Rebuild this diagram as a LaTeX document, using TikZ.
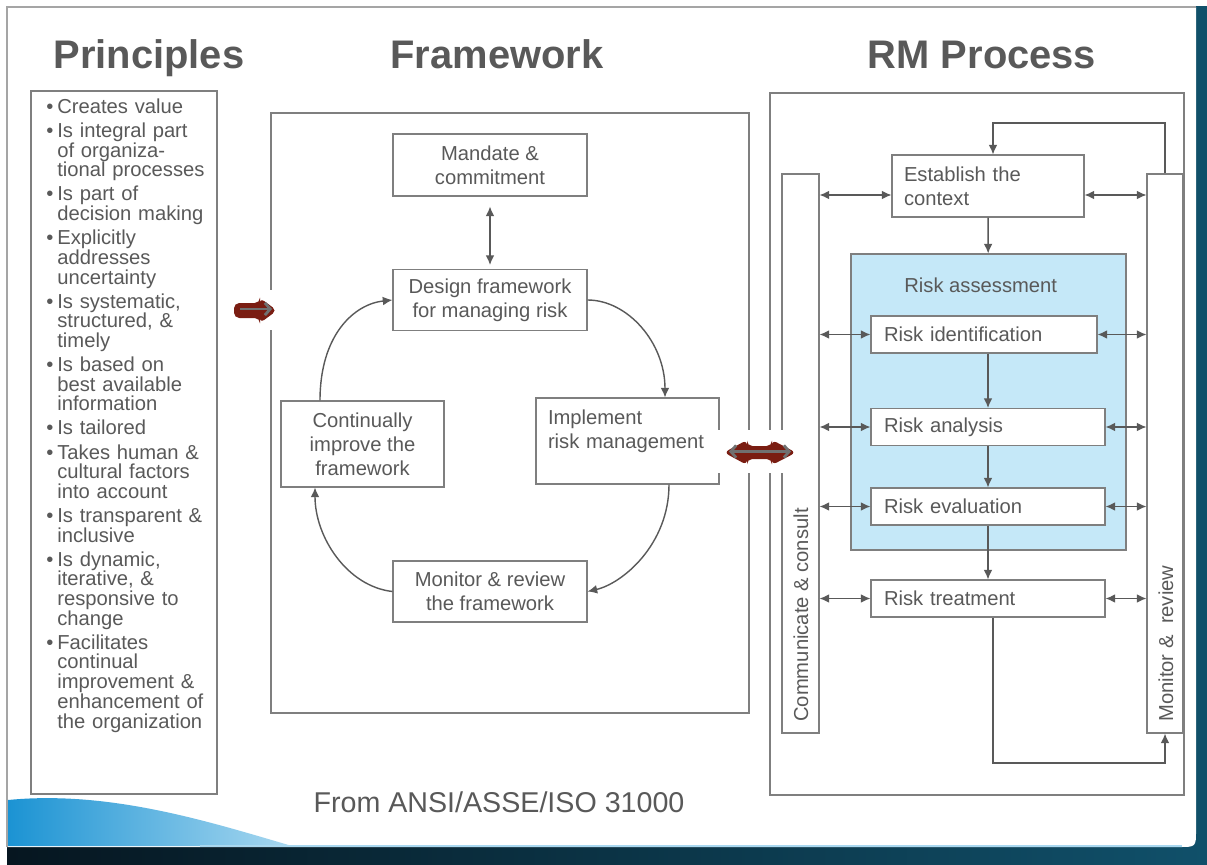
\documentclass[tikz,border=0pt]{standalone}
\usepackage{fontspec}
\setmainfont{Liberation Sans}
\usetikzlibrary{arrows.meta, positioning}

\definecolor{txtgray}{HTML}{595959}
\definecolor{boxgray}{HTML}{7F7F7F}
\definecolor{riskblue}{HTML}{C5E8F8}
\definecolor{fatred}{HTML}{7A1D12}
\definecolor{inkgray}{HTML}{707070}
\definecolor{banddark}{HTML}{061620}
\definecolor{bandteal}{HTML}{10506A}
\definecolor{swoosh}{HTML}{1B93D3}
\definecolor{swooshlight}{HTML}{A9D8F0}

\newdimen\pxu \pxu=0.02cm
\newcommand\bodyfont{\fontsize{11.5}{13.6}\selectfont}
\newcommand\prin[1]{\par\noindent\makebox[11\pxu][l]{\textbullet}#1\par}
\newcommand\cont{\\\hspace*{11\pxu}}

\tikzset{
  box/.style={draw=boxgray, line width=0.6pt, fill=white, text=txtgray, inner sep=0pt, align=center, font=\bodyfont},
  riskbox/.style={box, align=left, minimum height=37\pxu},
  link/.style={draw=txtgray, line width=0.8pt, -{Latex[length=5.5pt, width=5pt]}},
  dlink/.style={draw=txtgray, line width=0.8pt, {Latex[length=5.5pt, width=5pt]}-{Latex[length=5.5pt, width=5pt]}},
  heading/.style={text=txtgray, font=\fontsize{22.7}{27}\selectfont\bfseries, anchor=base},
  sidetext/.style={text=txtgray, font=\bodyfont, rotate=90, anchor=west, inner sep=0pt},
}

\begin{document}
\begin{tikzpicture}[x=0.02cm, y=-0.02cm]
\useasboundingbox (0,0) rectangle (1207,865);
% slide frame
\shade[left color=banddark, right color=bandteal] (7,7) rectangle (1207,865);
\fill[white] (7,7) -- (1196,7) -- (1196,830) .. controls (1196,847) .. (1179,847) -- (7,847) -- cycle;
\shade[left color=swoosh, right color=swooshlight] (8,800) .. controls (110,790) and (210,822) .. (292,846) -- (8,846) -- cycle;
\draw[swooshlight, line width=1.2pt] (200,846) -- (1182,846);
\draw[boxgray!70, line width=0.6pt] (7,847) -- (7,7) -- (1196,7);

\node[heading] (tprin) at (149,69) {Principles};
\node[heading] (tfw) at (497,69) {Framework};
\node[heading] (trm) at (982,69) {RM Process};

% principles
\node[box, minimum width=186\pxu, minimum height=703\pxu] (prinbox) at (124,442.5) {};
\node[text=txtgray, text width=172\pxu, align=left, inner sep=0pt, anchor=north west, font=\fontsize{11.5}{11.2}\selectfont] (prinlist) at (46,89) {\setlength\parskip{2.5pt}%
\prin{Creates value}
\prin{Is integral part\cont of organiza-\cont tional processes}
\prin{Is part of\cont decision making}
\prin{Explicitly\cont addresses\cont uncertainty}
\prin{Is systematic,\cont structured, \&\cont timely}
\prin{Is based on\cont best available\cont information}
\prin{Is tailored}
\prin{Takes human \&\cont cultural factors\cont into account}
\prin{Is transparent \&\cont inclusive}
\prin{Is dynamic,\cont iterative, \&\cont responsive to\cont change}
\prin{Facilitates\cont continual\cont improvement \&\cont enhancement of\cont the organization}};

% framework
\node[box, minimum width=478\pxu, minimum height=600\pxu] (fw) at (510,413) {};
\node[box, minimum width=194\pxu, minimum height=62\pxu] (mandate) at (490,165) {Mandate \&\\commitment};
\node[box, minimum width=194\pxu, minimum height=61\pxu] (design) at (490,300) {Design framework\\for managing risk};
\node[box, minimum width=163\pxu, minimum height=86\pxu] (improve) at (362.5,444) {Continually\\improve the\\framework};
\node[box, minimum width=183\pxu, minimum height=86\pxu, text width=159\pxu, align=left] (implement) at (627.5,441) {Implement\\risk management\\\mbox{}};
\node[box, minimum width=194\pxu, minimum height=61\pxu] (monitorfw) at (490,591.5) {Monitor \& review\\the framework};

\draw[dlink, shorten <=10\pxu, shorten >=4\pxu] (mandate) -- (design);
\draw[link] ([xshift=-42.5\pxu]improve.north) .. controls +(0,-66) and +(-38,4) .. (design.west);
\draw[link] (design.east) .. controls +(40,0) and +(0,-55) .. ([xshift=37.5\pxu]implement.north);
\draw[link] ([xshift=41.5\pxu]implement.south) .. controls +(0,60) and +(35,-8) .. (monitorfw.east);
\draw[link] (monitorfw.west) .. controls +(-45,-5) and +(0,50) .. ([xshift=-47.5\pxu]improve.south);

% rm process
\node[box, minimum width=414\pxu, minimum height=702\pxu] (rm) at (977,444) {};
\node[box, minimum width=37\pxu, minimum height=559\pxu] (comm) at (800.5,453.5) {};
\node[box, minimum width=36\pxu, minimum height=559\pxu] (monrev) at (1165,453.5) {};
\node[sidetext] (commtext) at (801,722) {Communicate \& consult};
\node[sidetext] (monrevtext) at (1166,722) {Monitor \&\ \ review};
\node[box, minimum width=192\pxu, minimum height=62\pxu, text width=168\pxu, align=left] (establish) at (988,186) {Establish the\\context};
\node[box, fill=riskblue, minimum width=275\pxu, minimum height=296\pxu] (riskassess) at (988.5,402) {};
\node[text=txtgray, font=\bodyfont, anchor=west, inner sep=0pt] (ratitle) at (904,285) {Risk assessment};
\node[riskbox, minimum width=226\pxu, text width=200\pxu] (riskid) at (984,334.5) {Risk identification};
\node[riskbox, minimum width=234\pxu, text width=208\pxu] (riskan) at (988,427) {Risk analysis};
\node[riskbox, minimum width=234\pxu, text width=208\pxu] (riskev) at (988,506.5) {Risk evaluation};
\node[riskbox, minimum width=234\pxu, text width=208\pxu] (risktr) at (988,598.5) {Risk treatment};

\draw[dlink] (comm.east |- 0,195) -- ([yshift=-9\pxu]establish.west);
\draw[dlink] ([yshift=-9\pxu]establish.east) -- (monrev.west |- 0,195);
\draw[link] (establish) -- (riskassess);
\draw[link] (riskid.south -| riskan.north) -- (riskan.north);
\draw[link] (riskan) -- (riskev);
\draw[link] (riskev) -- (risktr);
\foreach \r in {riskid, riskan, riskev, risktr} {
  \draw[dlink] (comm.east |- \r) -- (\r.west);
  \draw[dlink] (\r.east) -- (monrev.west |- \r);
}
\coordinate (fbtop) at (993,123);
\draw[link] (monrev.north) |- (fbtop) -- (fbtop |- establish.north);
\coordinate (fbbot) at (993,763);
\draw[link] (risktr.south -| fbbot) -- (fbbot) -| (monrev.south);

\node[text=txtgray, font=\fontsize{16.3}{19}\selectfont] (source) at (499,802) {From ANSI/ASSE/ISO 31000};

% block arrows
\fill[white] (228,290) rectangle (293,330);
\fill[white] (712,430) rectangle (810,473);
\fill[fatred, rounded corners=3pt] (234,303) -- (260,303) -- (260,298) -- (277,310.5) -- (260,323) -- (260,318) -- (234,318) -- cycle;
\draw[inkgray, line width=1.6pt, -{Straight Barb[length=3pt, width=7pt]}] (240,309) -- (272,309);
\fill[fatred, rounded corners=3pt] (724,452.5) -- (747,440) -- (747,446) -- (772,446) -- (772,440) -- (796,452.5) -- (772,465) -- (772,459) -- (747,459) -- (747,465) -- cycle;
\draw[inkgray, line width=1.6pt, {Straight Barb[length=3pt, width=7pt]}-{Straight Barb[length=3pt, width=7pt]}] (729,451.5) -- (791,451.5);
\end{tikzpicture}
\end{document}
